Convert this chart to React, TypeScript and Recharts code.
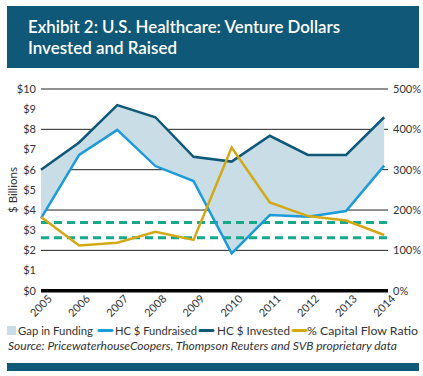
import React from "react";
import {
  ComposedChart,
  Area,
  Line,
  XAxis,
  YAxis,
  CartesianGrid,
  ReferenceLine,
} from "recharts";

const years = [2005, 2006, 2007, 2008, 2009, 2010, 2011, 2012, 2013, 2014];
const invested = [6.0, 7.35, 9.2, 8.6, 6.64, 6.4, 7.68, 6.73, 6.73, 8.6];
const fundraised = [3.59, 6.73, 7.97, 6.18, 5.44, 1.85, 3.75, 3.67, 3.95, 6.2];
const flowRatio = [183, 112, 119, 146, 126, 355, 219, 185, 174, 138];
const dollarTicks = [0, 1, 2, 3, 4, 5, 6, 7, 8, 9, 10];
const pctTicks = [0, 100, 200, 300, 400, 500];
const dashedLevels = [3.38, 2.63];

const data = years.map((year, i) => ({
  year,
  invested: invested[i],
  fundraised: fundraised[i],
  gap: [fundraised[i], invested[i]],
  ratio: flowRatio[i],
}));

const NAVY = "#0f5878";
const FUND = "#1b9bd7";
const RATIO = "#d3a814";
const GAP = "#c8dde6";
const DASH = "#15a98a";
const FONT = "Lato, 'Open Sans', sans-serif";

const YearTick = (props: any) => {
  const { x, y, payload } = props;
  return (
    <g transform={`translate(${x},${y})`}>
      <text
        x={0}
        y={0}
        dy="0.35em"
        transform="rotate(-45)"
        textAnchor="middle"
        fontSize={11}
        fontFamily={FONT}
        fill="#333"
      >
        {payload.value}
      </text>
    </g>
  );
};

const legendItems = [
  { label: "HC $ Fundraised", color: FUND, x: 99, tx: 115, w: 82 },
  { label: "HC $ Invested", color: NAVY, x: 200, tx: 217, w: 73 },
  { label: "% Capital Flow Ratio", color: RATIO, x: 293, tx: 307, w: 111 },
];

export default function App() {
  return (
    <div style={{ position: "absolute", left: 0, top: 0, width: 423, height: 376, background: "#fff" }}>
      <div style={{ position: "absolute", left: 0, top: 0 }}>
        <ComposedChart
          width={423}
          height={320}
          data={data}
          margin={{ top: 89, right: 0, bottom: 0, left: 0 }}
        >
          <CartesianGrid vertical={false} stroke="#222" strokeWidth={1} yAxisId="left" />
          <XAxis
            dataKey="year"
            type="number"
            domain={[2005, 2014.1]}
            ticks={years}
            height={29.3}
            tickLine={false}
            tickSize={0}
            tickMargin={15}
            axisLine={{ stroke: "#000", strokeWidth: 3.5 }}
            tick={YearTick}
          />
          <YAxis
            yAxisId="left"
            width={41}
            domain={[0, 10]}
            ticks={dollarTicks}
            axisLine={false}
            tickLine={false}
            tickSize={3}
            tickMargin={2}
            tickFormatter={(v) => `$${v}`}
            tick={{ fontSize: 11, fill: "#333", fontFamily: FONT }}
          />
          <YAxis
            yAxisId="right"
            orientation="right"
            width={35}
            domain={[0, 500]}
            ticks={pctTicks}
            axisLine={false}
            tickLine={false}
            tickSize={0}
            tickMargin={5}
            tickFormatter={(v) => `${v}%`}
            tick={{ fontSize: 11, fill: "#333", fontFamily: FONT }}
          />
          <Area
            yAxisId="left"
            dataKey="gap"
            stroke="none"
            fill={GAP}
            fillOpacity={1}
            isAnimationActive={false}
          />
          {dashedLevels.map((lvl) => (
            <ReferenceLine
              key={lvl}
              yAxisId="left"
              y={lvl}
              stroke={DASH}
              strokeWidth={3}
              strokeDasharray="8 5"
            />
          ))}
          <Line
            yAxisId="left"
            dataKey="fundraised"
            stroke={FUND}
            strokeWidth={2.5}
            dot={false}
            isAnimationActive={false}
          />
          <Line
            yAxisId="left"
            dataKey="invested"
            stroke={NAVY}
            strokeWidth={2.5}
            dot={false}
            isAnimationActive={false}
          />
          <Line
            yAxisId="right"
            dataKey="ratio"
            stroke={RATIO}
            strokeWidth={2.5}
            dot={false}
            isAnimationActive={false}
          />
        </ComposedChart>
      </div>
      <svg
        width={423}
        height={376}
        style={{ position: "absolute", left: 0, top: 0, pointerEvents: "none" }}
        fontFamily={FONT}
      >
        <rect x={7} y={6} width={412} height={62} fill={NAVY} />
        <text x={28} y={33} fill="#fff" fontSize={17} fontWeight={600} textLength={312} lengthAdjust="spacingAndGlyphs">
          Exhibit 2: U.S. Healthcare: Venture Dollars
        </text>
        <text x={28} y={53.5} fill="#fff" fontSize={17} fontWeight={600} textLength={149} lengthAdjust="spacingAndGlyphs">
          Invested and Raised
        </text>
        <text
          x={12}
          y={190}
          transform="rotate(-90 12 190)"
          textAnchor="middle"
          dominantBaseline="central"
          fontSize={11.5}
          fill="#333"
        >
          $ Billions
        </text>
        <rect x={7} y={326} width={9} height={9} fill={GAP} />
        <text x={18} y={335} fontSize={12} fill="#333" textLength={75} lengthAdjust="spacingAndGlyphs">
          Gap in Funding
        </text>
        {legendItems.map((it) => (
          <g key={it.label}>
            <line x1={it.x} x2={it.x + 13} y1={330.5} y2={330.5} stroke={it.color} strokeWidth={3} strokeLinecap="round" />
            <text x={it.tx} y={335} fontSize={12} fill="#333" textLength={it.w} lengthAdjust="spacingAndGlyphs">
              {it.label}
            </text>
          </g>
        ))}
        <text x={8} y={349.5} fontSize={11} fontStyle="italic" fill="#333" textLength={389} lengthAdjust="spacingAndGlyphs">
          Source: PricewaterhouseCoopers, Thompson Reuters and SVB proprietary data
        </text>
        <rect x={7} y={363} width={412} height={8} fill={NAVY} />
      </svg>
    </div>
  );
}
